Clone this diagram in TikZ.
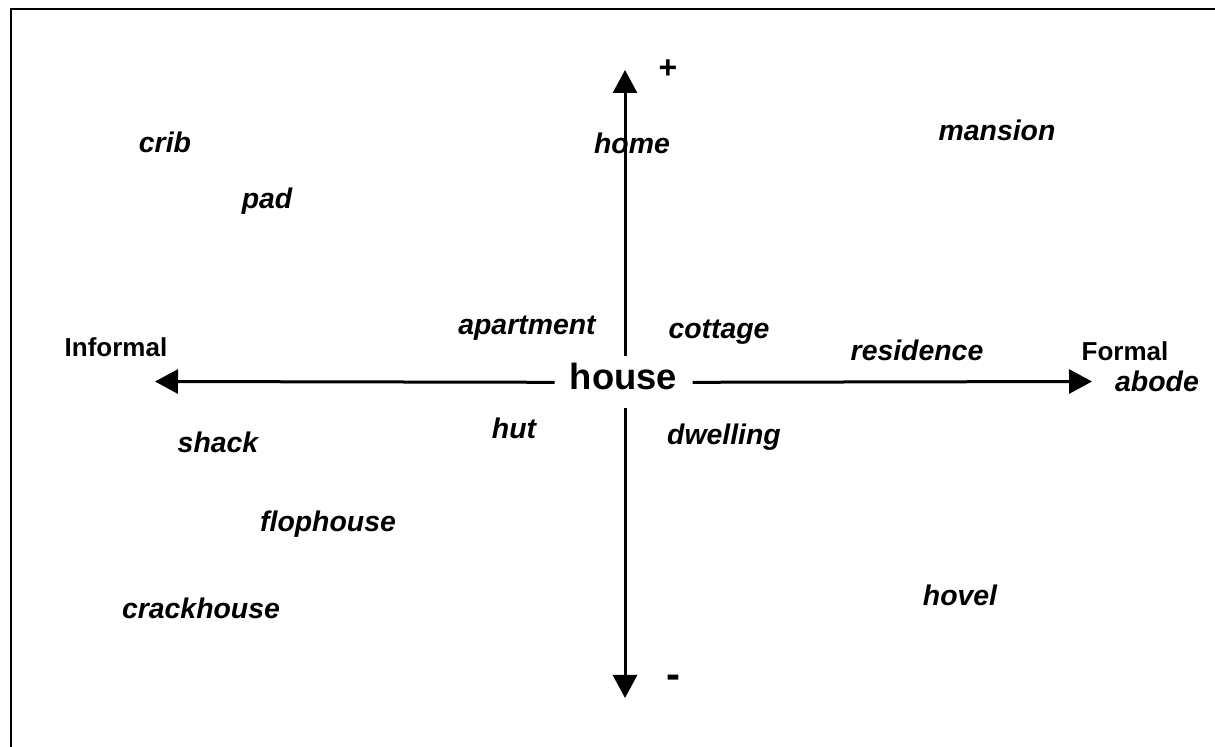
\documentclass[tikz,border=0pt]{standalone}
\usepackage{fontspec}
\setmainfont{Liberation Sans}
\usepackage{tikz}
\usetikzlibrary{arrows.meta,positioning}

\begin{document}
\begin{tikzpicture}[x=0.5pt,y=-0.5pt,
    word/.style={font=\fontsize{14.2}{17}\selectfont\bfseries\itshape, inner sep=0pt},
    pole/.style={font=\fontsize{13}{16}\selectfont\bfseries, inner sep=0pt},
    axis/.style={line width=1.5pt, -{Triangle[length=11.5pt,width=12pt]}}]
    \useasboundingbox (0,0) rectangle (1215,747);
    \draw[line width=0.75pt] (11,747) -- (11,9) -- (1215,9);
    % centre word and axes
    \node[font=\fontsize{18.2}{22}\selectfont\bfseries, anchor=base,
          inner xsep=7.5pt, inner ysep=3.5pt, text depth=5.5pt] (house) at (623.5,390) {house};
    \coordinate (up) at (625,70);
    \coordinate (down) at (625,698);
    \coordinate (left) at (155,381.5);
    \coordinate (right) at (1092,381.5);
    \draw[axis] (house.north -| up) -- (up);
    \draw[axis] (house.south -| down) -- (down);
    \draw[axis] (house.west) -- (left);
    \draw[axis] (house.east) -- (right);
    % axis ends
    \node[pole] (informal) at (116,347) {Informal};
    \node[pole] (formal) at (1125,351) {Formal};
    \node[pole, font=\fontsize{16}{18}\selectfont\bfseries] (plus) at (668,69) {+};
    \node[pole, font=\fontsize{21}{24}\selectfont\bfseries] (minus) at (673,682) {-};
    % words
    \node[word] (crib) at (165,142) {crib};
    \node[word] (pad) at (267,201) {pad};
    \node[word] (home) at (632,143) {home};
    \node[word] (mansion) at (997,130) {mansion};
    \node[word] (apartment) at (527,328) {apartment};
    \node[word] (cottage) at (719,332) {cottage};
    \node[word] (residence) at (917,350) {residence};
    \node[word] (abode) at (1157,381) {abode};
    \node[word] (shack) at (218,442) {shack};
    \node[word] (hut) at (514,428) {hut};
    \node[word] (dwelling) at (724,437) {dwelling};
    \node[word] (flophouse) at (328,524) {flophouse};
    \node[word] (crackhouse) at (201,608) {crackhouse};
    \node[word] (hovel) at (960,595) {hovel};
\end{tikzpicture}
\end{document}
